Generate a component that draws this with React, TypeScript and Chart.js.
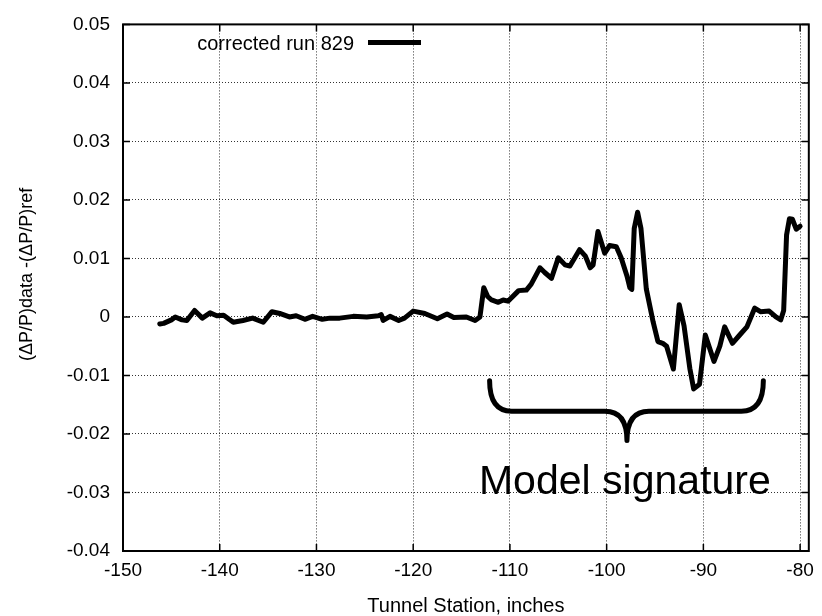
import { useEffect, useRef } from "react";
import { Chart, registerables } from "chart.js";

Chart.register(...registerables);

// Tunnel station (inches) and pressure-difference residual of the corrected run
const stations = [
  -146.2, -145.8, -145.0, -144.6, -143.9, -143.4, -142.6, -141.8, -141.0, -140.3,
  -139.6, -138.6, -137.6, -136.6, -135.5, -134.6, -133.8, -132.8, -132.1, -131.2,
  -130.4, -129.4, -128.6, -127.6, -126.2, -124.8, -123.6, -123.3, -123.1, -122.4,
  -121.5, -120.9, -120.0, -118.8, -117.5, -116.5, -115.8, -114.5, -113.6, -113.1,
  -112.7, -112.3, -111.9, -111.2, -110.7, -110.2, -109.1, -108.3, -107.8, -106.9,
  -106.4, -105.7, -105.0, -104.3, -103.8, -102.8, -102.2, -101.7, -101.4, -100.9,
  -100.2, -99.7, -99.0, -98.5, -97.9, -97.6, -97.4, -97.15, -96.8, -96.45,
  -95.9, -95.2, -94.7, -94.2, -93.8, -93.1, -92.5, -92.0, -91.4, -91.0,
  -90.4, -89.8, -88.9, -88.3, -87.8, -87.0, -86.2, -85.5, -84.7, -84.1,
  -83.2, -82.5, -82.0, -81.7, -81.4, -81.1, -80.8, -80.4, -80.0,
];

const residuals = [
  -0.0012, -0.0011, -0.0005, 0.0, -0.0005, -0.0006, 0.0011, -0.0002, 0.0007, 0.0002,
  0.0003, -0.0009, -0.0006, -0.0002, -0.0009, 0.0009, 0.0006, 0.0, 0.0002, -0.0004,
  0.0001, -0.0004, -0.0002, -0.0002, 0.0001, 0.0, 0.0002, 0.0004, -0.0006, 0.0001,
  -0.0006, -0.0002, 0.001, 0.0006, -0.0003, 0.0005, -0.0001, 0.0, -0.0006, 0.0,
  0.005, 0.0035, 0.0029, 0.0025, 0.0029, 0.0027, 0.0045, 0.0046, 0.0056, 0.0084,
  0.0076, 0.0066, 0.0101, 0.0089, 0.0087, 0.0115, 0.0104, 0.0084, 0.0089, 0.0146,
  0.0109, 0.0122, 0.012, 0.0101, 0.007, 0.005, 0.0047, 0.0151, 0.0179, 0.0151,
  0.0048, -0.0008, -0.0042, -0.0045, -0.005, -0.0089, 0.0021, -0.0015, -0.0088, -0.0123,
  -0.0115, -0.0031, -0.0076, -0.005, -0.0017, -0.0045, -0.003, -0.0017, 0.0015, 0.0009,
  0.001, 0.0, -0.0005, 0.0011, 0.014, 0.0168, 0.0167, 0.015, 0.0155,
];

const xTickValues = [-150, -140, -130, -120, -110, -100, -90, -80];
const yTickValues = [-0.04, -0.03, -0.02, -0.01, 0, 0.01, 0.02, 0.03, 0.04, 0.05];
const xRange = [-150, -79.1];
const yRange = [-0.04, 0.05];

const seriesLabel = "corrected run 829";
const xTitle = "Tunnel Station, inches";
const yTitle = "(ΔP/P)data -(ΔP/P)ref";

// Curly brace marking the model region, in axis units
const braceStations = [-112.1, -97.9, -83.8]; // left end, tip, right end
const braceLevels = [-0.0109, -0.0161, -0.0211]; // arm ends, bar, tip
const braceLabel = "Model signature";
const braceLabelAt = [-113.2, -0.0302]; // left edge, baseline

const FONT = "'Liberation Sans', Arial, Helvetica, sans-serif";

const overlayPlugin = {
  id: "overlay",
  afterDatasetsDraw(chart: any) {
    const { ctx, scales } = chart;
    const sx = scales.x;
    const sy = scales.y;
    const xL = sx.getPixelForValue(braceStations[0]);
    const xM = sx.getPixelForValue(braceStations[1]);
    const xR = sx.getPixelForValue(braceStations[2]);
    const yTop = sy.getPixelForValue(braceLevels[0]);
    const yBar = sy.getPixelForValue(braceLevels[1]);
    const yTip = sy.getPixelForValue(braceLevels[2]);
    const rx = (xM - xL) * 0.16;

    ctx.save();
    ctx.strokeStyle = "#000";
    ctx.lineWidth = 5;
    ctx.lineCap = "round";
    ctx.lineJoin = "round";
    ctx.beginPath();
    ctx.moveTo(xL, yTop);
    ctx.quadraticCurveTo(xL, yBar, xL + rx, yBar);
    ctx.lineTo(xM - rx, yBar);
    ctx.quadraticCurveTo(xM, yBar, xM, yTip);
    ctx.quadraticCurveTo(xM, yBar, xM + rx, yBar);
    ctx.lineTo(xR - rx, yBar);
    ctx.quadraticCurveTo(xR, yBar, xR, yTop);
    ctx.stroke();

    ctx.fillStyle = "#000";
    ctx.font = `41px ${FONT}`;
    ctx.textAlign = "left";
    ctx.textBaseline = "alphabetic";
    ctx.fillText(
      braceLabel,
      sx.getPixelForValue(braceLabelAt[0]),
      sy.getPixelForValue(braceLabelAt[1])
    );
    ctx.restore();
  },
  afterDraw(chart: any) {
    const { ctx, chartArea: a, scales } = chart;
    const sx = scales.x;
    const sy = scales.y;
    ctx.save();
    ctx.strokeStyle = "#000";

    // inward tick marks on all four sides
    ctx.lineWidth = 1.5;
    ctx.beginPath();
    for (const v of xTickValues) {
      const px = sx.getPixelForValue(v);
      ctx.moveTo(px, a.bottom);
      ctx.lineTo(px, a.bottom - 7);
      ctx.moveTo(px, a.top);
      ctx.lineTo(px, a.top + 7);
    }
    for (const v of yTickValues) {
      const py = sy.getPixelForValue(v);
      ctx.moveTo(a.left, py);
      ctx.lineTo(a.left + 7, py);
      ctx.moveTo(a.right, py);
      ctx.lineTo(a.right - 7, py);
    }
    ctx.stroke();

    // plot frame
    ctx.lineWidth = 2;
    ctx.strokeRect(a.left, a.top, a.right - a.left, a.bottom - a.top);

    // legend entry
    const ds = chart.data.datasets[0];
    ctx.fillStyle = "#000";
    ctx.font = `20px ${FONT}`;
    ctx.textAlign = "right";
    ctx.textBaseline = "middle";
    ctx.fillText(ds.label, a.left + 231, a.top + 20);
    ctx.strokeStyle = ds.borderColor;
    ctx.lineWidth = 5;
    ctx.lineCap = "butt";
    ctx.beginPath();
    ctx.moveTo(a.left + 245, a.top + 18);
    ctx.lineTo(a.left + 298, a.top + 18);
    ctx.stroke();

    // axis titles
    ctx.textAlign = "center";
    ctx.textBaseline = "middle";
    ctx.font = `20px ${FONT}`;
    ctx.fillText(xTitle, (a.left + a.right) / 2, a.bottom + 55);
    ctx.save();
    ctx.translate(a.left - 96, a.top + 250);
    ctx.rotate(-Math.PI / 2);
    ctx.font = `18px ${FONT}`;
    ctx.fillText(yTitle, 0, 0);
    ctx.restore();

    ctx.restore();
  },
};

export default function App() {
  const canvasRef = useRef<HTMLCanvasElement | null>(null);

  useEffect(() => {
    document.body.style.margin = "0";
    const canvas = canvasRef.current;
    if (!canvas) return;

    const gridColor = "rgba(0,0,0,0.8)";
    const chart = new Chart(canvas, {
      type: "line",
      data: {
        datasets: [
          {
            label: seriesLabel,
            data: stations.map((s, i) => ({ x: s, y: residuals[i] })),
            borderColor: "#000",
            borderWidth: 5,
            pointRadius: 0,
            tension: 0,
            borderJoinStyle: "round",
            borderCapStyle: "round",
            fill: false,
          },
        ],
      },
      options: {
        animation: false,
        responsive: false,
        layout: { padding: { top: 15, right: 13, left: 0, bottom: 0 } },
        plugins: {
          legend: { display: false },
          tooltip: { enabled: false },
        },
        scales: {
          x: {
            type: "linear",
            min: xRange[0],
            max: xRange[1],
            afterBuildTicks: (s: any) => {
              s.ticks = xTickValues.map((v) => ({ value: v }));
            },
            afterFit: (s: any) => {
              s.height = 65;
            },
            grid: { color: gridColor, lineWidth: 1, drawTicks: false },
            border: { display: false, dash: [1, 2] },
            ticks: {
              autoSkip: false,
              maxRotation: 0,
              padding: 8,
              color: "#000",
              font: { family: FONT, size: 19 },
              callback: (v: any) => String(v),
            },
          },
          y: {
            type: "linear",
            min: yRange[0],
            max: yRange[1],
            afterBuildTicks: (s: any) => {
              s.ticks = yTickValues.map((v) => ({ value: v }));
            },
            afterFit: (s: any) => {
              s.width = 123;
            },
            grid: { color: gridColor, lineWidth: 1, drawTicks: false },
            border: { display: false, dash: [1, 2] },
            ticks: {
              padding: 13,
              color: "#000",
              font: { family: FONT, size: 19 },
              callback: (v: any) => (Math.abs(v) < 1e-9 ? "0" : Number(v).toFixed(2)),
            },
          },
        },
      },
      plugins: [overlayPlugin],
    });

    return () => chart.destroy();
  }, []);

  return (
    <div style={{ position: "fixed", left: 0, top: 0, width: 822, height: 616, background: "#fff" }}>
      <canvas ref={canvasRef} width={822} height={616} />
    </div>
  );
}
